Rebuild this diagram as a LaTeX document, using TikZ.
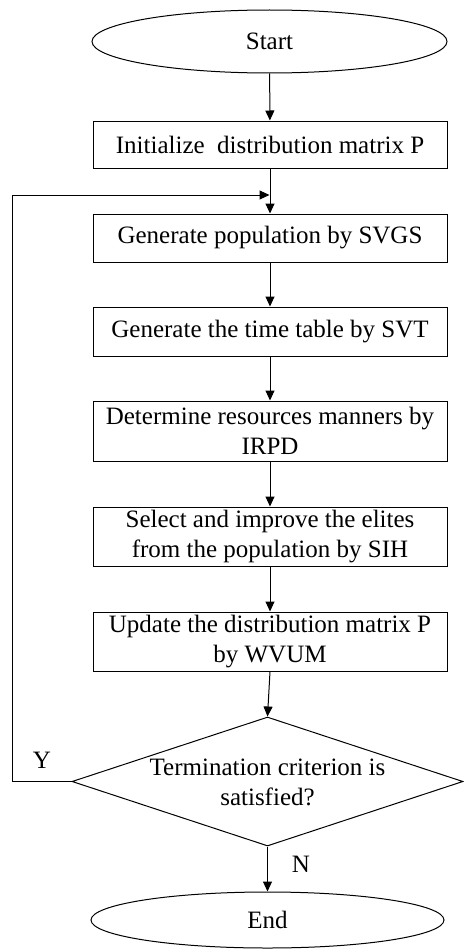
\documentclass[tikz,border=0pt]{standalone}
\usepackage{fontspec}
\setmainfont{Liberation Serif}
\usetikzlibrary{shapes.geometric,arrows.meta}
\begin{document}
\begin{tikzpicture}[x=1pt,y=-1pt,
  every node/.style={font=\fontsize{25}{30}\selectfont, inner sep=0pt, align=center},
  procbox/.style={draw, line width=1pt, rectangle, minimum width=354pt},
  termin/.style={draw, line width=1pt, ellipse},
  decis/.style={draw, line width=1pt, diamond, minimum width=391pt, minimum height=129pt},
  flow/.style={line width=1pt, -{Triangle[length=10pt,width=9pt]}}]
\useasboundingbox (0,0) rectangle (463,950);
\node[termin, minimum width=355pt, minimum height=63pt] (start) at (269.5,41.5) {Start};
\node[procbox, minimum height=47pt] (b1) at (270,144.5) {Initialize\ \ distribution matrix P};
\node[procbox, minimum height=48pt] (b2) at (270,238) {Generate population by SVGS};
\node[procbox, minimum height=49pt] (b3) at (270,331.5) {Generate the time table by SVT};
\node[procbox, minimum height=60pt] (b4) at (270,431) {Determine resources manners by\\IRPD};
\node[procbox, minimum height=59pt] (b5) at (270,536.5) {Select and improve the elites\\from the population by SIH};
\node[procbox, minimum height=59pt] (b6) at (270,641.5) {Update the distribution matrix P\\by WVUM};
\node[decis] (dia) at (267.5,781.5) {};
\node (diatext) at (267.5,782) {Termination criterion is\\satisfied?};
\node[termin, minimum width=353pt, minimum height=56pt] (end) at (267.5,920) {End};
\node (ylab) at (42,760) {Y};
\node (nlab) at (301,864) {N};
\coordinate (lc) at (12,195);
\coordinate (lj) at (269.5,195);
\draw[flow] (start) -- (b1);
\draw[flow] (b1) -- (b2);
\draw[flow] (b2) -- (b3);
\draw[flow] (b3) -- (b4);
\draw[flow] (b4) -- (b5);
\draw[flow] (b5) -- (b6);
\draw[flow] (b6.south) -- (dia.north);
\draw[flow] (dia.south) -- (end.north);
\draw[flow] (dia.west) -- (dia.west -| lc) -- (lc) -- (lj);
\end{tikzpicture}
\end{document}
